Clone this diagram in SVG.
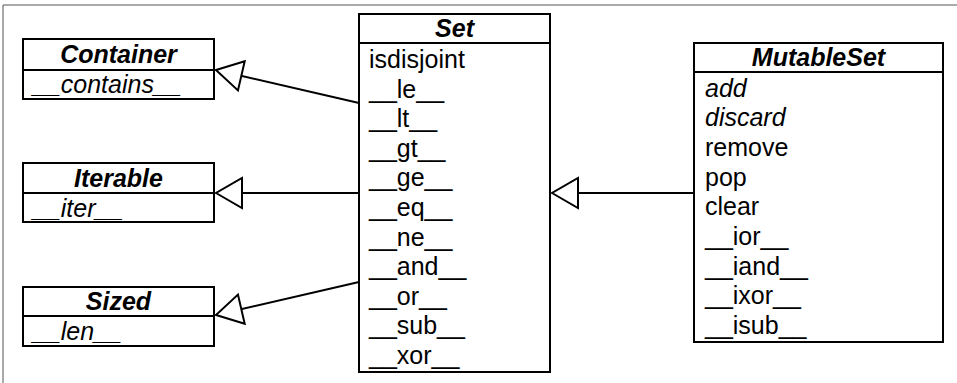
<svg xmlns="http://www.w3.org/2000/svg" width="957" height="383" viewBox="0 0 957 383">
<style>
.box{fill:#fff;stroke:#000;stroke-width:2}
.div{stroke:#000;stroke-width:2}
.t{font-family:"Liberation Sans",Arial,sans-serif;font-size:25px;fill:#000}
.h{font-weight:bold;font-style:italic;text-anchor:middle}
.i{font-style:italic}
.con{stroke:#000;stroke-width:2;fill:none}
</style>
<defs>
<marker id="inh" markerUnits="userSpaceOnUse" viewBox="0 0 30 34" markerWidth="30" markerHeight="34" refX="28" refY="17" orient="auto">
<path d="M28,17 L2,2 L2,32 Z" fill="#fff" stroke="#000" stroke-width="2" stroke-linejoin="miter"/>
</marker>
</defs>
<rect width="957" height="383" fill="#fff"/>
<path d="M3,383 V5 H957" fill="none" stroke="#555" stroke-width="1"/>
<g id="connectors">
<line class="con" x1="359" y1="103" x2="216" y2="70" marker-end="url(#inh)"/>
<line class="con" x1="359" y1="193" x2="216" y2="193" marker-end="url(#inh)"/>
<line class="con" x1="359" y1="282" x2="216" y2="315" marker-end="url(#inh)"/>
<line class="con" x1="694" y1="193" x2="552" y2="193" marker-end="url(#inh)"/>
</g>
<g id="Container">
<rect class="box" x="23" y="39" width="191" height="60"/>
<line class="div" x1="23" y1="70" x2="214" y2="70"/>
<text class="t h" x="118.5" y="63">Container</text>
<text class="t i" x="33" y="92.5">__contains__</text>
</g>
<g id="Iterable">
<rect class="box" x="23" y="163" width="191" height="59"/>
<line class="div" x1="23" y1="193" x2="214" y2="193"/>
<text class="t h" x="118.5" y="186.5">Iterable</text>
<text class="t i" x="33" y="217">__iter__</text>
</g>
<g id="Sized">
<rect class="box" x="23" y="287" width="191" height="59"/>
<line class="div" x1="23" y1="316" x2="214" y2="316"/>
<text class="t h" x="118.5" y="309.5">Sized</text>
<text class="t i" x="33" y="339.5">__len__</text>
</g>
<g id="Set">
<rect class="box" x="359" y="14" width="191" height="358"/>
<line class="div" x1="359" y1="43" x2="550" y2="43"/>
<text class="t h" x="454.5" y="37">Set</text>
<text class="t" x="369" y="68">isdisjoint</text>
<text class="t" x="369" y="97.6">__le__</text>
<text class="t" x="369" y="127.2">__lt__</text>
<text class="t" x="369" y="156.8">__gt__</text>
<text class="t" x="369" y="186.4">__ge__</text>
<text class="t" x="369" y="216">__eq__</text>
<text class="t" x="369" y="245.6">__ne__</text>
<text class="t" x="369" y="275.2">__and__</text>
<text class="t" x="369" y="304.8">__or__</text>
<text class="t" x="369" y="334.4">__sub__</text>
<text class="t" x="369" y="364">__xor__</text>
</g>
<g id="MutableSet">
<rect class="box" x="694" y="43" width="249" height="299"/>
<line class="div" x1="694" y1="72" x2="943" y2="72"/>
<text class="t h" x="818.5" y="66">MutableSet</text>
<text class="t i" x="705" y="96.5">add</text>
<text class="t i" x="705" y="126.2">discard</text>
<text class="t" x="705" y="155.9">remove</text>
<text class="t" x="705" y="185.6">pop</text>
<text class="t" x="705" y="215.3">clear</text>
<text class="t" x="705" y="245">__ior__</text>
<text class="t" x="705" y="274.7">__iand__</text>
<text class="t" x="705" y="304.4">__ixor__</text>
<text class="t" x="705" y="334.1">__isub__</text>
</g>
</svg>
